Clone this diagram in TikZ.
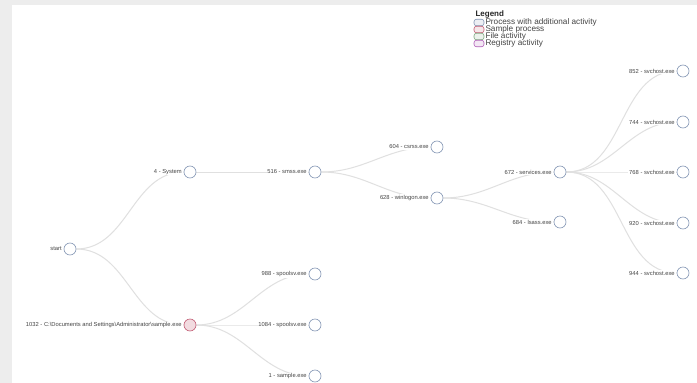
\documentclass[tikz,border=0pt]{standalone}
\usepackage{fontspec}
\setmainfont{Liberation Sans}
\usetikzlibrary{positioning,backgrounds}
\definecolor{procblue}{HTML}{8496B4}
\definecolor{samplered}{HTML}{C25C74}
\definecolor{filegreen}{HTML}{7FA87F}
\definecolor{regpurple}{HTML}{B060B8}
\definecolor{linkgrey}{HTML}{E0E0E0}
\definecolor{framegrey}{HTML}{EDEDED}
\definecolor{lbltext}{HTML}{444444}

\begin{document}
\begin{tikzpicture}[
  x=1pt, y=-1pt,
  font=\fontsize{5.8}{6.5}\selectfont,
  proc/.style={circle, draw=procblue, fill=white, line width=0.6pt, minimum size=12pt, inner sep=0pt},
  sample/.style={proc, draw=samplered, fill=samplered!22},
  lbl/.style={fill=white, text=lbltext, inner sep=0.8pt},
  link/.style={draw=linkgrey, line width=1pt},
  key/.style={rounded corners=2.5pt, draw=#1, fill=#1!15, line width=0.6pt, minimum width=10pt, minimum height=6.5pt, inner sep=0pt},
  keytext/.style={inner sep=0pt, text=lbltext, font=\fontsize{8.2}{8.5}\selectfont}
]
\useasboundingbox (0,0) rectangle (697,383);

% process tree
\node[proc] (start) at (70,249) {};
\node[lbl, left=1pt of start] (start-l) {start};

\node[proc] (sys) at (190,172) {};
\node[lbl, left=1pt of sys] (sys-l) {4 - System};
\node[proc] (smss) at (315,172) {};
\node[lbl, left=1pt of smss] (smss-l) {516 - smss.exe};
\node[proc] (csrss) at (437,147) {};
\node[lbl, left=1pt of csrss] (csrss-l) {604 - csrss.exe};
\node[proc] (winlogon) at (437,198) {};
\node[lbl, left=1pt of winlogon] (winlogon-l) {628 - winlogon.exe};
\node[proc] (services) at (560,172) {};
\node[lbl, left=1pt of services] (services-l) {672 - services.exe};
\node[proc] (lsass) at (560,222) {};
\node[lbl, left=1pt of lsass] (lsass-l) {684 - lsass.exe};

\node[proc] (svc1) at (683,71) {};
\node[lbl, left=1pt of svc1] (svc1-l) {852 - svchost.exe};
\node[proc] (svc2) at (683,122) {};
\node[lbl, left=1pt of svc2] (svc2-l) {744 - svchost.exe};
\node[proc] (svc3) at (683,172) {};
\node[lbl, left=1pt of svc3] (svc3-l) {768 - svchost.exe};
\node[proc] (svc4) at (683,223) {};
\node[lbl, left=1pt of svc4] (svc4-l) {920 - svchost.exe};
\node[proc] (svc5) at (683,273) {};
\node[lbl, left=1pt of svc5] (svc5-l) {944 - svchost.exe};

\node[sample] (smp) at (190,325) {};
\node[lbl, left=1pt of smp] (smp-l) {1032 - C:\textbackslash Documents and Settings\textbackslash Administrator\textbackslash sample.exe};
\node[proc] (spool1) at (315,274) {};
\node[lbl, left=1pt of spool1] (spool1-l) {988 - spoolsv.exe};
\node[proc] (spool2) at (315,325) {};
\node[lbl, left=1pt of spool2] (spool2-l) {1084 - spoolsv.exe};
\node[proc] (child) at (315,376) {};
\node[lbl, left=1pt of child] (child-l) {1 - sample.exe};

% frame and links
\begin{scope}[on background layer]
  \fill[framegrey] (0,0) rectangle (697,383);
  \fill[white] (12,5) rectangle (697,383);
  \draw[link] (start) to[out=0, in=180] (sys);
  \draw[link] (start) to[out=0, in=180] (smp);
  \draw[link] (sys) -- (smss);
  \draw[link] (smss) to[out=0, in=180] (csrss);
  \draw[link] (smss) to[out=0, in=180] (winlogon);
  \draw[link] (winlogon) to[out=0, in=180] (services);
  \draw[link] (winlogon) to[out=0, in=180] (lsass);
  \foreach \c in {svc1,svc2,svc3,svc4,svc5}
    \draw[link] (services) to[out=0, in=180] (\c);
  \foreach \c in {spool1,spool2,child}
    \draw[link] (smp) to[out=0, in=180] (\c);
\end{scope}

% legend
\node[anchor=west, font=\fontsize{8}{8.5}\selectfont\bfseries, text=black!85] (legend) at (472,14.5) {Legend};
\node[key=procblue] (k1) at (479,22.5) {};
\node[keytext, right=1pt of k1] {Process with additional activity};
\node[key=samplered] (k2) at (479,29.5) {};
\node[keytext, right=1pt of k2] {Sample process};
\node[key=filegreen] (k3) at (479,36.5) {};
\node[keytext, right=1pt of k3] {File activity};
\node[key=regpurple] (k4) at (479,43.5) {};
\node[keytext, right=1pt of k4] {Registry activity};

\end{tikzpicture}
\end{document}
